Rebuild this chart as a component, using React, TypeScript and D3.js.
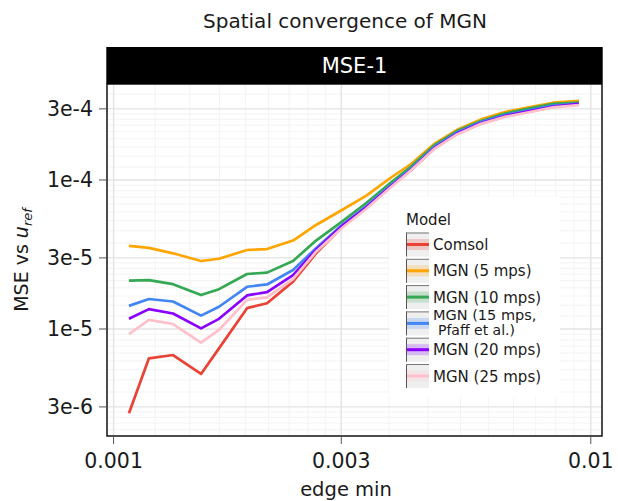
import React from "react";
import * as d3 from "d3";

const edgeMin = [
  1.077e-3, 1.186e-3, 1.332e-3, 1.525e-3, 1.663e-3, 1.904e-3, 2.097e-3, 2.377e-3, 2.656e-3, 3.01e-3,
  3.38e-3, 3.795e-3, 4.201e-3, 4.716e-3, 5.244e-3, 5.888e-3, 6.609e-3, 7.459e-3, 8.333e-3, 9.447e-3,
];

const comsol = [
  2.72e-6, 6.36e-6, 6.69e-6, 4.99e-6, 7.41e-6, 1.38e-5, 1.49e-5, 2.08e-5, 3.22e-5, 4.84e-5,
  6.49e-5, 8.91e-5, 1.17e-4, 1.64e-4, 2.04e-4, 2.39e-4, 2.67e-4, 2.88e-4, 3.09e-4, 3.21e-4,
];
const mgn5 = [
  3.61e-5, 3.5e-5, 3.22e-5, 2.86e-5, 2.96e-5, 3.39e-5, 3.44e-5, 3.92e-5, 4.99e-5, 6.29e-5,
  7.82e-5, 1.027e-4, 1.28e-4, 1.76e-4, 2.17e-4, 2.55e-4, 2.86e-4, 3.08e-4, 3.3e-4, 3.4e-4,
];
const mgn10 = [
  2.11e-5, 2.13e-5, 2.0e-5, 1.69e-5, 1.85e-5, 2.34e-5, 2.39e-5, 2.86e-5, 3.92e-5, 5.25e-5,
  6.98e-5, 9.5e-5, 1.23e-4, 1.72e-4, 2.13e-4, 2.49e-4, 2.79e-4, 3.02e-4, 3.24e-4, 3.31e-4,
];
const mgn15 = [
  1.43e-5, 1.59e-5, 1.53e-5, 1.23e-5, 1.41e-5, 1.92e-5, 1.99e-5, 2.49e-5, 3.48e-5, 4.99e-5,
  6.64e-5, 9.12e-5, 1.19e-4, 1.68e-4, 2.08e-4, 2.45e-4, 2.73e-4, 2.95e-4, 3.16e-4, 3.26e-4,
];
const mgn20 = [
  1.17e-5, 1.36e-5, 1.27e-5, 1.01e-5, 1.17e-5, 1.68e-5, 1.77e-5, 2.3e-5, 3.39e-5, 4.91e-5,
  6.53e-5, 8.97e-5, 1.17e-4, 1.65e-4, 2.05e-4, 2.41e-4, 2.69e-4, 2.9e-4, 3.11e-4, 3.24e-4,
];
const mgn25 = [
  9.25e-6, 1.15e-5, 1.08e-5, 8.1e-6, 9.85e-6, 1.57e-5, 1.63e-5, 2.16e-5, 3.3e-5, 4.76e-5,
  6.38e-5, 8.83e-5, 1.16e-4, 1.63e-4, 2.02e-4, 2.38e-4, 2.65e-4, 2.86e-4, 3.07e-4, 3.18e-4,
];

const seriesNames = ["Comsol", "MGN (5 mps)", "MGN (10 mps)", "MGN (15 mps,\n Pfaff et al.)", "MGN (20 mps)", "MGN (25 mps)"];
const seriesValues = [comsol, mgn5, mgn10, mgn15, mgn20, mgn25];
const seriesColors = ["#EA4335", "#FFA500", "#34A853", "#4285F4", "#8A00FF", "#FFC0CB"];

const xBreaks = [0.001, 0.003, 0.01];
const xBreakLabels = ["0.001", "0.003", "0.01"];
const yBreaks = [3e-6, 1e-5, 3e-5, 1e-4, 3e-4];
const yBreakLabels = ["3e-6", "1e-5", "3e-5", "1e-4", "3e-4"];

const FONT = "DejaVu Sans, sans-serif";

function minorBreaks(majors: number[], lo: number, hi: number, n = 8) {
  const out: number[] = [];
  for (let i = 0; i < majors.length - 1; i++) {
    const a = majors[i], b = majors[i + 1];
    for (let k = 1; k <= n; k++) {
      const v = a + ((b - a) * k) / (n + 1);
      if (v > lo && v < hi) out.push(v);
    }
  }
  return out;
}

export default function App() {
  const W = 618, H = 501;
  const pl = 107, pr = 602, pt = 84, pb = 436;
  const x = d3.scaleLog().domain([Math.pow(10, -3.0138), Math.pow(10, -1.9765)]).range([pl, pr]);
  const y = d3.scaleLog().domain([Math.pow(10, -5.718), Math.pow(10, -3.356)]).range([pb, pt]);
  const [xlo, xhi] = x.domain();
  const [ylo, yhi] = y.domain();
  const xMinor = minorBreaks([0.0003, ...xBreaks, 0.03], xlo, xhi);
  const yMinor = minorBreaks([1e-6, ...yBreaks, 1e-3], ylo, yhi);

  const line = d3
    .line<[number, number]>()
    .x((d) => x(d[0]))
    .y((d) => y(d[1]));

  const legX = 406, legY0 = 244.5, legStep = 26.3;

  return (
    <svg width={W} height={H} style={{ position: "absolute", left: 0, top: 0 }} fontFamily={FONT}>
      <rect x={0} y={0} width={W} height={H} fill="#fff" />
      <text x={345} y={28} textAnchor="middle" fontSize={20} fill="#1a1a1a">
        Spatial convergence of MGN
      </text>
      {/* panel */}
      <rect x={pl} y={pt} width={pr - pl} height={pb - pt} fill="#fff" />
      {xMinor.map((v, i) => (
        <line key={"xm" + i} x1={x(v)} x2={x(v)} y1={pt} y2={pb} stroke="#f2f2f2" strokeWidth={0.9} />
      ))}
      {yMinor.map((v, i) => (
        <line key={"ym" + i} x1={pl} x2={pr} y1={y(v)} y2={y(v)} stroke="#f2f2f2" strokeWidth={0.9} />
      ))}
      {xBreaks.map((v, i) => (
        <line key={"xM" + i} x1={x(v)} x2={x(v)} y1={pt} y2={pb} stroke="#e3e3e3" strokeWidth={1.4} />
      ))}
      {yBreaks.map((v, i) => (
        <line key={"yM" + i} x1={pl} x2={pr} y1={y(v)} y2={y(v)} stroke="#e3e3e3" strokeWidth={1.4} />
      ))}
      {/* legend background */}
      <rect x={389} y={197} width={171} height={200} fill="#fff" />
      {seriesValues.map((vals, si) => (
        <path
          key={"s" + si}
          d={line(edgeMin.map((e, i) => [e, vals[i]] as [number, number])) || ""}
          fill="none"
          stroke={seriesColors[si]}
          strokeWidth={2.7}
          strokeLinejoin="round"
        />
      ))}
      <rect x={pl} y={pt} width={pr - pl} height={pb - pt} fill="none" stroke="#000" strokeWidth={1.4} />
      {/* strip */}
      <rect x={pl - 0.7} y={47} width={pr - pl + 1.4} height={pt - 47} fill="#000" />
      <text x={(pl + pr) / 2} y={73} textAnchor="middle" fontSize={21} fill="#fff">
        MSE-1
      </text>
      {/* axes */}
      {yBreaks.map((v, i) => (
        <g key={"yt" + i}>
          <line x1={pl - 8} x2={pl} y1={y(v)} y2={y(v)} stroke="#555" strokeWidth={1} />
          <text x={pl - 14} y={y(v) + 7.5} textAnchor="end" fontSize={20.5} fill="#1a1a1a">
            {yBreakLabels[i]}
          </text>
        </g>
      ))}
      {xBreaks.map((v, i) => (
        <g key={"xt" + i}>
          <line x1={x(v)} x2={x(v)} y1={pb} y2={pb + 8} stroke="#555" strokeWidth={1} />
          <text x={x(v)} y={468} textAnchor="middle" fontSize={20.5} fill="#1a1a1a">
            {xBreakLabels[i]}
          </text>
        </g>
      ))}
      <text x={346} y={496} textAnchor="middle" fontSize={19.5} fill="#1a1a1a">
        edge min
      </text>
      <text transform={`translate(28,${(pt + pb) / 2}) rotate(-90)`} textAnchor="middle" fontSize={19} fill="#1a1a1a">
        MSE vs <tspan fontStyle="italic">u</tspan>
        <tspan fontStyle="italic" fontSize={13} dy={4}>
          ref
        </tspan>
      </text>
      {/* legend */}
      <text x={legX} y={225} fontSize={15} fill="#1a1a1a">
        Model
      </text>
      {seriesNames.map((name, i) => {
        const cy = legY0 + i * legStep;
        const lines = name.split("\n");
        return (
          <g key={"lg" + i}>
            <rect x={legX} y={cy - 12} width={23} height={24} fill="#efefef" />
            <rect x={legX} y={cy - 5.5} width={23} height={11} fill={seriesColors[i]} fillOpacity={0.22} />
            <line x1={legX} x2={legX + 23} y1={cy} y2={cy} stroke={seriesColors[i]} strokeWidth={3} />
            <line x1={legX + 0.5} x2={legX + 0.5} y1={cy - 12} y2={cy + 12} stroke="#555" strokeWidth={1} />
            <line x1={legX} x2={legX + 23} y1={cy - 11.5} y2={cy - 11.5} stroke="#777" strokeWidth={1} />
            {lines.length === 1 ? (
              <text x={legX + 27} y={cy + 5.5} fontSize={15} fill="#1a1a1a">
                {name}
              </text>
            ) : (
              <>
                <text x={legX + 27} y={cy - 3} fontSize={14.5} fill="#1a1a1a">
                  {lines[0]}
                </text>
                <text x={legX + 32} y={cy + 11.5} fontSize={14} fill="#1a1a1a">
                  {lines[1].trim()}
                </text>
              </>
            )}
          </g>
        );
      })}
    </svg>
  );
}
